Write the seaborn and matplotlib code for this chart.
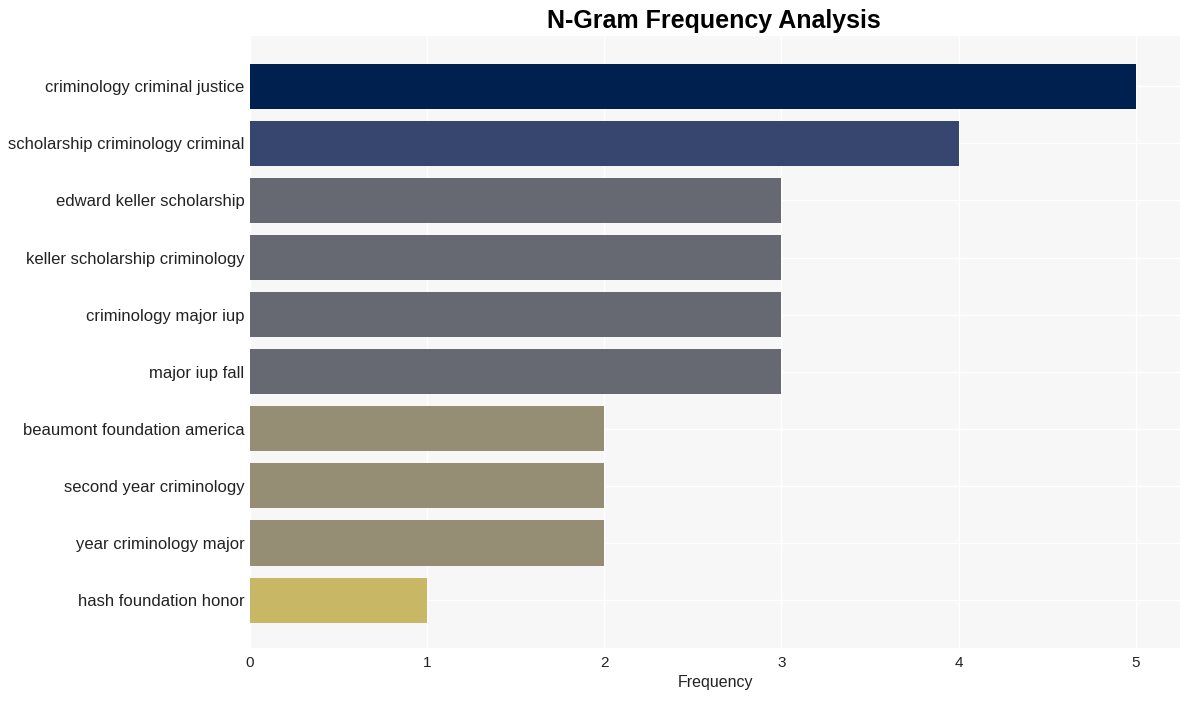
import matplotlib
matplotlib.use("Agg")
import matplotlib.pyplot as plt
import seaborn as sns
import pandas as pd

ngrams = ["criminology criminal justice", "scholarship criminology criminal",
          "edward keller scholarship", "keller scholarship criminology",
          "criminology major iup", "major iup fall", "beaumont foundation america",
          "second year criminology", "year criminology major", "hash foundation honor"]
freqs = [5, 4, 3, 3, 3, 3, 2, 2, 2, 1]
colors = ["#00204f", "#37466e", "#676972", "#676972", "#676972", "#676972",
          "#958e75", "#958e75", "#958e75", "#c8b866"]

df = pd.DataFrame({"ngram": ngrams, "freq": freqs})

sns.set_theme(style="whitegrid")
plt.rcParams['font.family'] = ['Liberation Sans', 'DejaVu Sans']

fig = plt.figure(figsize=(11.89, 7.01), dpi=100)
ax = fig.add_axes([0.2103, 0.0756, 0.7821, 0.873])
sns.barplot(data=df, x="freq", y="ngram", hue="ngram", palette=colors,
            legend=False, ax=ax, width=0.79, saturation=1, linewidth=0)
ax.set_facecolor("#f7f7f7")
ax.grid(True, color="white", linewidth=1)
for s in ax.spines.values():
    s.set_visible(False)
ax.set_xlim(0, 5.25)
ax.set_ylim(9.84, -0.88)
ax.set_xticks([0, 1, 2, 3, 4, 5])
ax.tick_params(axis="both", length=0, colors="#222222")
ax.tick_params(axis="y", labelsize=12, pad=4)
ax.tick_params(axis="x", labelsize=11, pad=6)
ax.set_ylabel("")
ax.set_xlabel("Frequency", fontsize=11.5, color="#222222", labelpad=3)
fig.text(0.6005, 0.9705, "N-Gram Frequency Analysis", ha="center", va="center",
         fontsize=18, fontweight="bold", color="black")
fig.savefig("out.png", dpi=100)
